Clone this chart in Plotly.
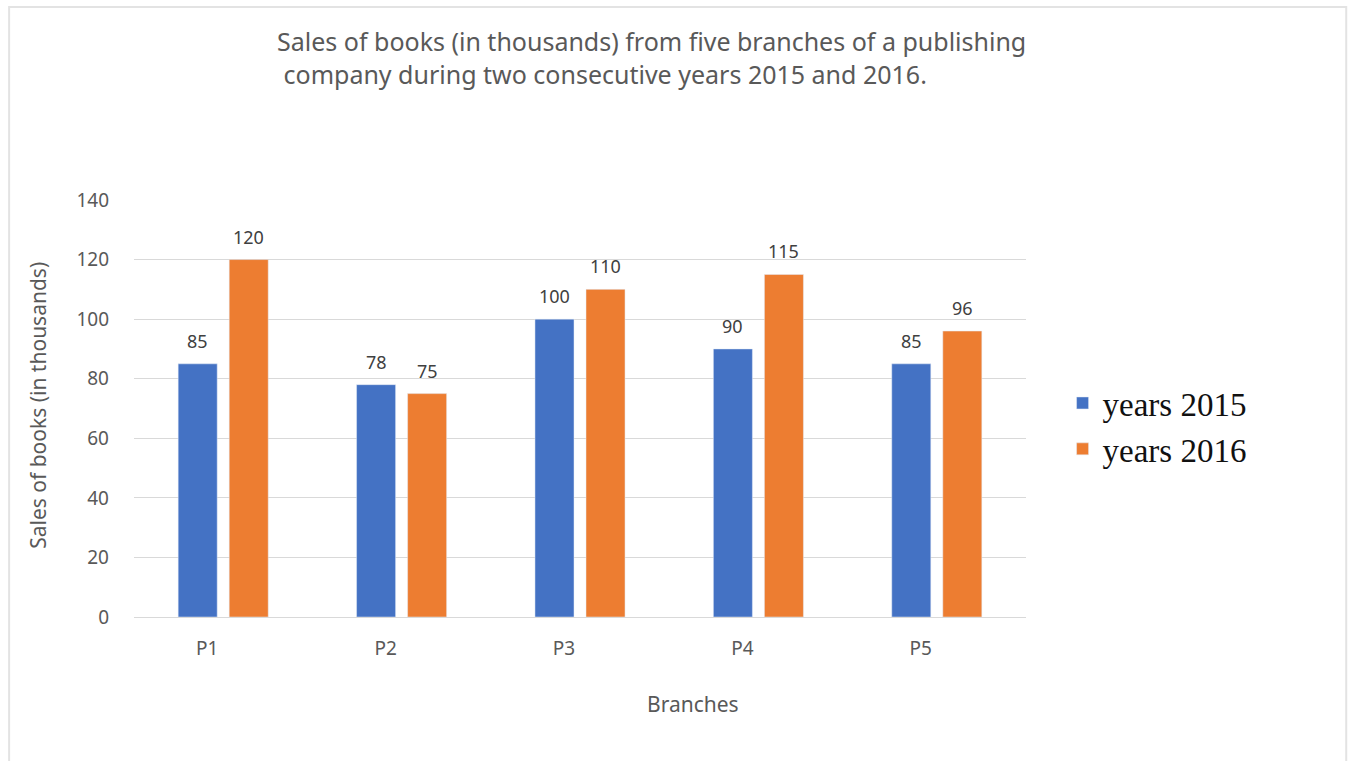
import plotly.graph_objects as go

# Data
branches = ['P1', 'P2', 'P3', 'P4', 'P5']
sales_2015 = [85, 78, 100, 90, 85]
sales_2016 = [120, 75, 110, 115, 96]
y_ticks = [0, 20, 40, 60, 80, 100, 120, 140]

blue = '#4472C4'
orange = '#ED7D31'
gray_text = '#595959'
label_font = dict(family='Noto Sans', size=18, color='#404040')

# Fig
fig = go.Figure()
fig.add_trace(go.Bar(name='years 2015', x=branches, y=sales_2015,
                     marker_color=blue))
fig.add_trace(go.Bar(name='years 2016', x=branches, y=sales_2016,
                     marker_color=orange))

# value labels above each bar
labels = []
for vals, shift in [(sales_2015, -25.5), (sales_2016, 25.5)]:
    for b, v in zip(branches, vals):
        labels.append(dict(x=b, y=v, text=str(v), xref='x', yref='y',
                           xshift=shift, yshift=9, yanchor='bottom',
                           showarrow=False, font=label_font))

# Layout
fig.update_layout(
    width=1354, height=761,
    margin=dict(l=134, r=328, t=200, b=144),
    paper_bgcolor='white', plot_bgcolor='white',
    barmode='group', bargap=0.428, bargroupgap=0.235,
    font=dict(family='Noto Sans', color=gray_text),
    showlegend=True,
    legend=dict(x=1.041, y=0.458, xanchor='left', yanchor='middle',
                font=dict(family='Liberation Serif', size=33, color='#111111'),
                itemwidth=30, tracegroupgap=0, bgcolor='rgba(0,0,0,0)'),
    annotations=labels + [
        dict(text='Sales of books (in thousands) from five branches of a publishing<br> company during two consecutive years 2015 and 2016.',
             xref='paper', yref='paper', x=0.158, y=1.428,
             xanchor='left', yanchor='top', align='left', showarrow=False,
             font=dict(family='Noto Sans', size=25, color=gray_text)),
        dict(text='Branches', xref='paper', yref='paper', x=0.627, y=-0.209,
             xanchor='center', yanchor='middle', showarrow=False,
             font=dict(family='Noto Sans', size=21, color=gray_text)),
        dict(text='Sales of books (in thousands)', xref='paper', yref='paper',
             x=-0.108, y=0.508, xanchor='center', yanchor='middle',
             textangle=-90, showarrow=False,
             font=dict(family='Noto Sans', size=21, color=gray_text)),
    ],
    shapes=[
        dict(type='rect', xref='paper', yref='paper',
             x0=-0.140, x1=1.359, y0=-0.40, y1=1.463,
             line=dict(color='#E3E3E3', width=2), layer='below'),
    ],
)
fig.update_xaxes(showline=False, showgrid=False, ticks='',
                 tickfont=dict(size=19, color=gray_text), ticklabelstandoff=18,
                 ticklabelshift=-16)
fig.update_yaxes(range=[0, 140], tickvals=y_ticks, showgrid=True,
                 gridcolor='#D9D9D9', gridwidth=1, zeroline=True,
                 zerolinecolor='#D9D9D9', zerolinewidth=1, showline=False,
                 tickfont=dict(size=19, color=gray_text), ticklabelstandoff=24)

fig.write_html('out.html', config={'displayModeBar': False},
               post_script="document.body.style.margin='0';")
